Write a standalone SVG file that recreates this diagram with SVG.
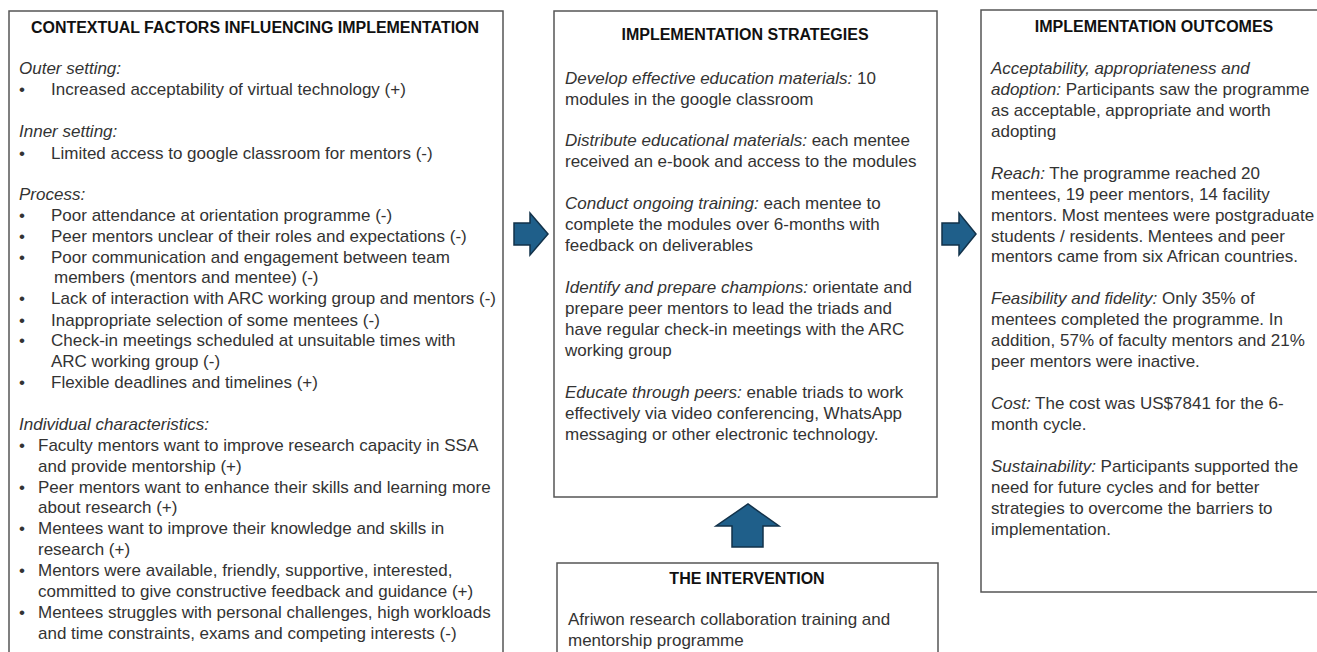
<svg xmlns="http://www.w3.org/2000/svg" width="1317" height="652" viewBox="0 0 1317 652">
<style>
.box{fill:#ffffff;stroke:#555555;stroke-width:1.5}
.t{font-family:"Liberation Sans",Arial,sans-serif;font-size:17px;fill:#333333}
.h{font-family:"Liberation Sans",Arial,sans-serif;font-size:16px;font-weight:bold;fill:#111111;text-anchor:middle}
.i{font-style:italic}
.arrow{fill:#1f5f8a;stroke:#12324a;stroke-width:1.5;stroke-linejoin:miter}
</style>
<rect width="1317" height="652" fill="#ffffff"/>

<g id="contextual-factors">
<rect class="box" x="9" y="11" width="494" height="660"/>
<text class="h" x="255" y="33" textLength="448" lengthAdjust="spacingAndGlyphs">CONTEXTUAL FACTORS INFLUENCING IMPLEMENTATION</text>
<text class="t i" x="19" y="74">Outer setting:</text>
<text class="t" x="19" y="95">•</text><text class="t" x="51" y="95">Increased acceptability of virtual technology (+)</text>
<text class="t i" x="19" y="137">Inner setting:</text>
<text class="t" x="19" y="159">•</text><text class="t" x="51" y="159">Limited access to google classroom for mentors (-)</text>
<text class="t i" x="19" y="200">Process:</text>
<text class="t" x="19" y="221">•</text><text class="t" x="51" y="221">Poor attendance at orientation programme (-)</text>
<text class="t" x="19" y="242">•</text><text class="t" x="51" y="242">Peer mentors unclear of their roles and expectations (-)</text>
<text class="t" x="19" y="263">•</text><text class="t" x="51" y="263">Poor communication and engagement between team</text>
<text class="t" x="54" y="283">members (mentors and mentee) (-)</text>
<text class="t" x="19" y="304">•</text><text class="t" x="51" y="304">Lack of interaction with ARC working group and mentors (-)</text>
<text class="t" x="19" y="326">•</text><text class="t" x="51" y="326">Inappropriate selection of some mentees  (-)</text>
<text class="t" x="19" y="346">•</text><text class="t" x="51" y="346">Check-in meetings scheduled  at unsuitable times with</text>
<text class="t" x="51" y="367">ARC working group (-)</text>
<text class="t" x="19" y="388">•</text><text class="t" x="51" y="388">Flexible deadlines and timelines (+)</text>
<text class="t i" x="19" y="430">Individual characteristics:</text>
<text class="t" x="19" y="451">•</text><text class="t" x="38" y="451">Faculty mentors want to improve research capacity in SSA</text>
<text class="t" x="38" y="472">and provide mentorship (+)</text>
<text class="t" x="19" y="493">•</text><text class="t" x="38" y="493">Peer mentors want to enhance their skills and learning more</text>
<text class="t" x="38" y="513">about research (+)</text>
<text class="t" x="19" y="534">•</text><text class="t" x="38" y="534">Mentees want to improve their knowledge and skills in</text>
<text class="t" x="38" y="555">research (+)</text>
<text class="t" x="19" y="576">•</text><text class="t" x="38" y="576">Mentors were available, friendly, supportive, interested,</text>
<text class="t" x="38" y="597">committed to give constructive  feedback and guidance (+)</text>
<text class="t" x="19" y="618">•</text><text class="t" x="38" y="618">Mentees struggles with personal challenges, high workloads</text>
<text class="t" x="38" y="639">and time constraints, exams and competing interests (-)</text>
</g>

<g id="implementation-strategies">
<rect class="box" x="554" y="11" width="383" height="486"/>
<text class="h" x="745" y="40">IMPLEMENTATION STRATEGIES</text>
<text class="t" x="565" y="84"><tspan class="i">Develop effective education materials:</tspan> 10</text>
<text class="t" x="565" y="105">modules in the google classroom</text>
<text class="t" x="565" y="146"><tspan class="i">Distribute educational materials:</tspan> each mentee</text>
<text class="t" x="565" y="167">received an e-book and access to the modules</text>
<text class="t" x="565" y="209"><tspan class="i">Conduct ongoing training:</tspan> each mentee to</text>
<text class="t" x="565" y="230">complete the modules over 6-months with</text>
<text class="t" x="565" y="251">feedback on deliverables</text>
<text class="t" x="565" y="293"><tspan class="i">Identify and prepare champions:</tspan> orientate and</text>
<text class="t" x="565" y="314">prepare peer mentors to lead the triads and</text>
<text class="t" x="565" y="335">have regular check-in meetings with the ARC</text>
<text class="t" x="565" y="356">working group</text>
<text class="t" x="565" y="398"><tspan class="i">Educate through peers:</tspan> enable triads to work</text>
<text class="t" x="565" y="419">effectively via video conferencing, WhatsApp</text>
<text class="t" x="565" y="440">messaging or other electronic technology.</text>
</g>

<g id="implementation-outcomes">
<rect class="box" x="981" y="10" width="350" height="582"/>
<text class="h" x="1154" y="32">IMPLEMENTATION OUTCOMES</text>
<text class="t i" x="991" y="74">Acceptability, appropriateness and</text>
<text class="t" x="991" y="95"><tspan class="i">adoption:</tspan> Participants saw the programme</text>
<text class="t" x="991" y="116">as acceptable, appropriate and worth</text>
<text class="t" x="991" y="137">adopting</text>
<text class="t" x="991" y="179"><tspan class="i">Reach:</tspan> The programme reached 20</text>
<text class="t" x="991" y="200">mentees, 19 peer mentors, 14 facility</text>
<text class="t" x="991" y="221">mentors. Most mentees  were postgraduate</text>
<text class="t" x="991" y="242">students / residents. Mentees and peer</text>
<text class="t" x="991" y="262">mentors came from six African countries.</text>
<text class="t" x="991" y="304"><tspan class="i">Feasibility and fidelity:</tspan> Only 35% of</text>
<text class="t" x="991" y="325">mentees completed the programme. In</text>
<text class="t" x="991" y="346">addition, 57% of faculty mentors and 21%</text>
<text class="t" x="991" y="367">peer mentors were inactive.</text>
<text class="t" x="991" y="409"><tspan class="i">Cost:</tspan> The cost was US$7841 for the 6-</text>
<text class="t" x="991" y="430">month cycle.</text>
<text class="t" x="991" y="472"><tspan class="i">Sustainability:</tspan> Participants supported the</text>
<text class="t" x="991" y="493">need for future cycles  and for better</text>
<text class="t" x="991" y="514">strategies to overcome the barriers to</text>
<text class="t" x="991" y="535">implementation.</text>
</g>

<g id="the-intervention">
<rect class="box" x="557" y="563" width="381" height="110"/>
<text class="h" x="747" y="584">THE INTERVENTION</text>
<text class="t" x="568" y="625">Afriwon research collaboration training and</text>
<text class="t" x="568" y="646">mentorship programme</text>
</g>

<g id="connectors">
<polygon class="arrow" points="514,223 530,223 530,213 548,234 530,255 530,245 514,245"/>
<polygon class="arrow" points="942,223 959,223 959,213 976,234 959,255 959,245 942,245"/>
<polygon class="arrow" points="732,547 763,547 763,526 779,526 748,504 716,526 732,526"/>
</g>
</svg>
